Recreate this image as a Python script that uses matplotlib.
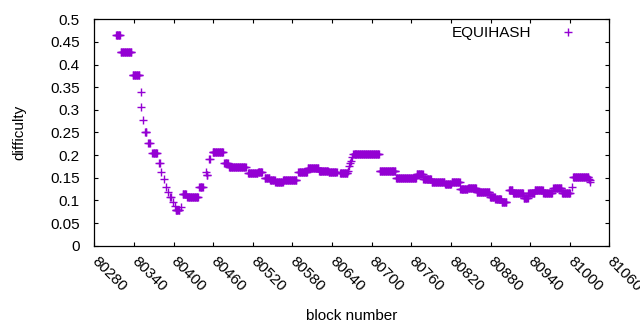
import numpy as np
import matplotlib
matplotlib.use('Agg')
import matplotlib.pyplot as plt

plt.rcParams['font.family'] = ['Liberation Sans', 'DejaVu Sans']
plt.rcParams['font.size'] = 11

# difficulty, as runs of blocks with the same value
run_start = [80313, 80320, 80338, 80350, 80351, 80354, 80357, 80362, 80368, 80378,
             80381, 80385, 80389, 80392, 80395, 80399, 80402, 80403, 80411, 80414,
             80421, 80439, 80449, 80450, 80454, 80459, 80477, 80484, 80513, 80528,
             80538, 80546, 80554, 80566, 80589, 80603, 80620, 80635, 80652, 80664,
             80666, 80667, 80668, 80670, 80672, 80712, 80737, 80768, 80778, 80791,
             80811, 80821, 80834, 80846, 80859, 80879, 80887, 80897, 80908, 80914,
             80930, 80937, 80947, 80960, 80975, 80988, 81003, 81005, 81029, 81030,
             81031]
run_end = [80319, 80336, 80348, 80350, 80351, 80354, 80359, 80364, 80375, 80379,
           80381, 80385, 80389, 80392, 80396, 80399, 80402, 80409, 80411, 80419,
           80437, 80444, 80449, 80451, 80455, 80475, 80482, 80509, 80527, 80534,
           80545, 80553, 80565, 80586, 80602, 80619, 80634, 80647, 80663, 80664,
           80666, 80667, 80668, 80670, 80711, 80736, 80767, 80777, 80790, 80810,
           80820, 80833, 80845, 80858, 80878, 80886, 80896, 80904, 80913, 80929,
           80936, 80946, 80959, 80973, 80987, 81000, 81003, 81028, 81029, 81030,
           81031]
run_value = [0.465, 0.427, 0.376, 0.339, 0.306, 0.277, 0.250, 0.226, 0.204, 0.182,
             0.163, 0.147, 0.130, 0.119, 0.107, 0.096, 0.088, 0.079, 0.085, 0.114,
             0.107, 0.129, 0.163, 0.156, 0.191, 0.206, 0.182, 0.174, 0.160, 0.163,
             0.149, 0.145, 0.140, 0.145, 0.162, 0.171, 0.165, 0.162, 0.160, 0.165,
             0.175, 0.182, 0.188, 0.195, 0.2025, 0.165, 0.150, 0.158, 0.147, 0.140,
             0.137, 0.140, 0.125, 0.128, 0.118, 0.108, 0.1025, 0.097, 0.123, 0.116,
             0.105, 0.116, 0.123, 0.116, 0.127, 0.116, 0.130, 0.151, 0.148, 0.144,
             0.141]

x_ticks = list(range(80280, 81061, 60))
y_ticks = [0, 0.05, 0.1, 0.15, 0.2, 0.25, 0.3, 0.35, 0.4, 0.45, 0.5]
y_ticklabels = ['0', '0.05', '0.1', '0.15', '0.2', '0.25', '0.3', '0.35', '0.4', '0.45', '0.5']

blocks = np.concatenate([np.arange(s, e + 1) for s, e in zip(run_start, run_end)])
difficulty = np.concatenate([np.full(e - s + 1, v) for s, e, v in zip(run_start, run_end, run_value)])

fig = plt.figure(figsize=(6.4, 3.3), dpi=100)
ax = fig.add_axes([0.1473, 0.2555, 0.805, 0.686])

ax.plot(blocks, difficulty, linestyle='none', marker='+', ms=5.5, mew=1.0,
        color='#9400d3', label='EQUIHASH')

ax.set_xlim(80280, 81060)
ax.set_ylim(0, 0.5)
ax.set_xticks(x_ticks)
ax.set_xticklabels([str(t) for t in x_ticks], rotation=-45, ha='left', va='center',
                   rotation_mode='anchor')
ax.set_yticks(y_ticks)
ax.set_yticklabels(y_ticklabels)
ax.tick_params(direction='in', top=True, right=True, length=3, width=0.8)
ax.tick_params(axis='x', pad=9.5)
ax.tick_params(axis='y', pad=10.5)
for sp in ax.spines.values():
    sp.set_linewidth(0.9)

ax.set_xlabel('block number', va='center')
ax.xaxis.set_label_coords(0.5, -0.31)
ax.set_ylabel('difficulty', va='center')
ax.yaxis.set_label_coords(-0.146, 0.5)

ax.legend(loc='upper right', bbox_to_anchor=(0.949, 0.971), frameon=False,
          markerfirst=False, borderpad=0, borderaxespad=0,
          handlelength=2, handletextpad=1.4)

fig.savefig('out.png', dpi=100)
